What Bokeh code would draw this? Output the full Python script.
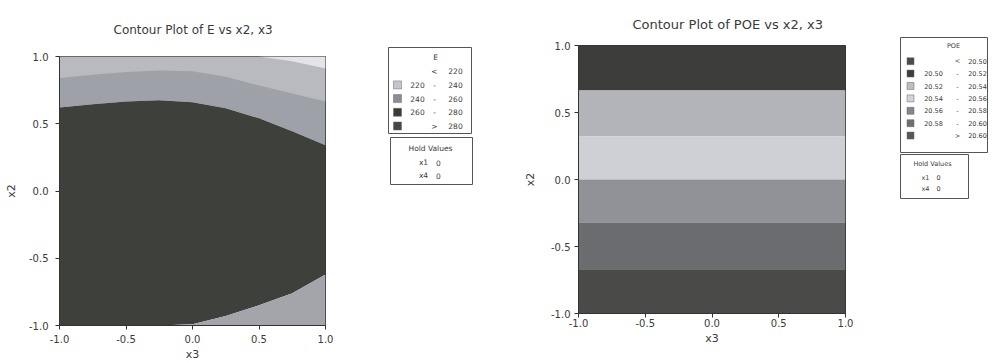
from bokeh.plotting import figure
from bokeh.layouts import row, column
from bokeh.models import Range1d, FixedTicker, Spacer
from bokeh.core.properties import value
from bokeh.embed import file_html
from bokeh.resources import INLINE

# ---------------- data ----------------
tick_vals = [-1.0, -0.5, 0.0, 0.5, 1.0]
tick_labels = ["-1.0", "-0.5", "0.0", "0.5", "1.0"]

# E contour boundaries (x2 value of each boundary at each x3)
x3_grid = [-1.0, -0.75, -0.5, -0.25, 0.0, 0.25, 0.5, 0.75, 1.0]
e_bound_dark_top = [0.62, 0.645, 0.665, 0.675, 0.66, 0.615, 0.54, 0.445, 0.34]
e_bound_mid_top = [0.84, 0.865, 0.885, 0.895, 0.89, 0.85, 0.785, 0.725, 0.665]
e_bound_light_top = [1.0, 1.0, 1.0, 1.0, 1.0, 1.0, 1.0, 0.965, 0.91]
e_bound_dark_bottom = [-1.0, -1.0, -1.0, -1.0, -0.99, -0.93, -0.85, -0.76, -0.62]

e_lower = ["", "220", "240", "260", ""]
e_sep = ["<", "-", "-", "-", ">"]
e_upper = ["220", "240", "260", "280", "280"]
e_swatch_colors = [None, "#c6c7cc", "#8d8e94", "#3b3c3a", "#474846"]

# POE bands (horizontal)
poe_edges = [1.0, 0.665, 0.32, 0.0, -0.32, -0.67, -1.0]
poe_band_colors = ["#3d3e3c", "#b3b4ba", "#cfd0d5", "#919298", "#6b6c70", "#4a4b48"]

poe_lower = ["", "20.50", "20.52", "20.54", "20.56", "20.58", ""]
poe_sep = ["<", "-", "-", "-", "-", "-", ">"]
poe_upper = ["20.50", "20.52", "20.54", "20.56", "20.58", "20.60", "20.60"]
poe_swatch_colors = ["#4b4c4a", "#3d3e3c", "#bdbec3", "#d2d3d7", "#85868c", "#6e6f73", "#575856"]

hold_vars = ["x1", "x4"]
hold_vals = ["0", "0"]

# ---------------- styling ----------------
BG = "#ffffff"
TXT = "#3a3a3a"
FONT = "DejaVu Sans"
H = 363


def style_plot(p, xl_std, xa_std, yl_std, ya_std, t_size, t_standoff):
    for ax in (p.xaxis[0], p.yaxis[0]):
        ax.ticker = FixedTicker(ticks=tick_vals)
        ax.major_label_overrides = {v: s for v, s in zip(tick_vals, tick_labels)}
        ax.major_label_text_font = FONT
        ax.major_label_text_font_size = "10px"
        ax.major_label_text_color = TXT
        ax.axis_label_text_font = FONT
        ax.axis_label_text_font_style = "normal"
        ax.axis_label_text_font_size = "11px"
        ax.axis_label_text_color = TXT
        ax.major_tick_in = 0
        ax.major_tick_out = 4
        ax.minor_tick_in = 0
        ax.minor_tick_out = 0
        ax.axis_line_color = "#333333"
        ax.major_tick_line_color = "#333333"
    p.xaxis[0].major_label_standoff = xl_std
    p.xaxis[0].axis_label_standoff = xa_std
    p.yaxis[0].major_label_standoff = yl_std
    p.yaxis[0].axis_label_standoff = ya_std
    p.xgrid.visible = False
    p.ygrid.visible = False
    p.outline_line_color = "#333333"
    p.border_fill_color = BG
    p.background_fill_color = BG
    p.title.text_font = FONT
    p.title.text_font_size = t_size
    p.title.text_font_style = "normal"
    p.title.text_color = TXT
    p.title.align = "left"
    p.title.offset = 54
    p.title.standoff = t_standoff


# ---------------- left: E contour ----------------
pA = figure(width=386, height=H - 1, x_range=Range1d(-1, 1), y_range=Range1d(-1, 1),
            min_border_left=59, min_border_right=61, min_border_top=54, min_border_bottom=36,
            toolbar_location=None, output_backend="svg",
            title="Contour Plot of E vs x2, x3", x_axis_label="x3", y_axis_label="x2")
top_line = [1.0] * len(x3_grid)
bottom_line = [-1.0] * len(x3_grid)
pA.varea(x=x3_grid, y1=e_bound_dark_top, y2=top_line, fill_color="#9fa1a8")
pA.varea(x=x3_grid, y1=e_bound_mid_top, y2=top_line, fill_color="#b9babf")
pA.varea(x=x3_grid, y1=e_bound_light_top, y2=top_line, fill_color="#e3e4e8")
pA.varea(x=x3_grid, y1=e_bound_dark_bottom, y2=e_bound_dark_top, fill_color="#3e403c")
pA.varea(x=x3_grid, y1=bottom_line, y2=e_bound_dark_bottom, fill_color="#a3a5ab")
style_plot(pA, 5, 2, 7, 8, "12px", 39)
colA = column(Spacer(width=386, height=1), pA)


# ---------------- legend helper ----------------
def legend_fig(width):
    f = figure(width=width, height=H, x_range=Range1d(0, width), y_range=Range1d(H, 0),
               x_axis_location=None, y_axis_location=None, min_border=0,
               toolbar_location=None, output_backend="svg")
    f.grid.visible = False
    f.outline_line_color = None
    f.border_fill_color = BG
    f.background_fill_color = BG
    return f


def txt(f, xs, ys, texts, size, align="center"):
    f.text(x=xs, y=ys, text=texts, text_font=value(FONT), text_font_size=value(size),
           text_color=TXT, text_align=align, text_baseline="middle")


# E legend (page x offset 386)
pB = legend_fig(114)
pB.quad(left=[2], right=[85], top=[47], bottom=[133], fill_color=None, line_color="#555555", line_width=1)
txt(pB, [49], [57], ["E"], "7.5px")
ey = [70.7 + 13.7 * i for i in range(len(e_upper))]
sw_idx = [i for i, c in enumerate(e_swatch_colors) if c is not None]
pB.rect(x=[11] * len(sw_idx), y=[ey[i] for i in sw_idx], width=8, height=8,
        fill_color=[e_swatch_colors[i] for i in sw_idx], line_color="#666666", line_width=0.5)
txt(pB, [31] * len(e_lower), ey, e_lower, "7.5px")
txt(pB, [48] * len(e_sep), ey, e_sep, "7.5px")
txt(pB, [69] * len(e_upper), ey, e_upper, "7.5px")
pB.quad(left=[4], right=[86], top=[137], bottom=[184], fill_color=None, line_color="#555555", line_width=1)
txt(pB, [44], [148], ["Hold Values"], "7.5px")
hy = [162 + 13 * i for i in range(len(hold_vars))]
txt(pB, [37] * len(hold_vars), hy, hold_vars, "7.5px")
txt(pB, [52] * len(hold_vals), hy, hold_vals, "7.5px")


# ---------------- right: POE contour ----------------
pC = figure(width=388, height=H - 1, x_range=Range1d(-1, 1), y_range=Range1d(-1, 1),
            min_border_left=78, min_border_right=43, min_border_top=42, min_border_bottom=50,
            toolbar_location=None, output_backend="svg",
            title="Contour Plot of POE vs x2, x3", x_axis_label="x3", y_axis_label="x2")
nb = len(poe_band_colors)
pC.quad(left=[-1.0] * nb, right=[1.0] * nb, top=poe_edges[:-1], bottom=poe_edges[1:],
        fill_color=poe_band_colors, line_color=None)
style_plot(pC, 1, 2, 4, 11, "13px", 27)
colC = column(Spacer(width=388, height=1), pC)

# POE legend (page x offset 888)
pD = legend_fig(108)
pD.quad(left=[12], right=[99], top=[37], bottom=[152], fill_color=None, line_color="#555555", line_width=1)
txt(pD, [65], [45], ["POE"], "6.5px")
py_ = [60.7 + 12.4 * i for i in range(len(poe_upper))]
pD.rect(x=[22] * len(py_), y=py_, width=7, height=7, fill_color=poe_swatch_colors,
        line_color="#666666", line_width=0.5)
txt(pD, [45] * len(poe_lower), py_, poe_lower, "6.5px")
txt(pD, [69] * len(poe_sep), py_, poe_sep, "6.5px")
txt(pD, [89] * len(poe_upper), py_, poe_upper, "6.5px")
pD.quad(left=[12], right=[80], top=[154], bottom=[198], fill_color=None, line_color="#555555", line_width=1)
txt(pD, [44], [163], ["Hold Values"], "6.5px")
hy2 = [177 + 11 * i for i in range(len(hold_vars))]
txt(pD, [37] * len(hold_vars), hy2, hold_vars, "6.5px")
txt(pD, [50] * len(hold_vals), hy2, hold_vals, "6.5px")

layout = row(colA, pB, colC, pD)
open("out.html", "w").write(file_html(layout, INLINE))
